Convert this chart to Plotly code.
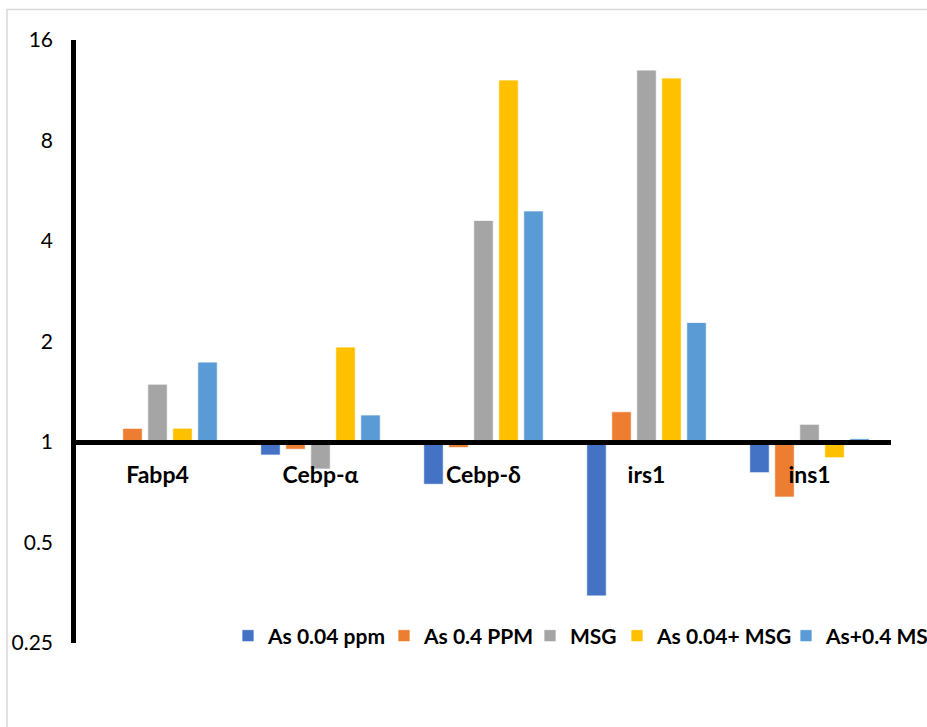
import plotly.graph_objects as go

genes = ["Fabp4", "Cebp-α", "Cebp-δ", "irs1", "ins1"]
series_names = ["As 0.04 ppm", "As 0.4 PPM", "MSG", "As 0.04+ MSG", "As+0.4 MSG"]
colors = ["#4472C4", "#ED7D31", "#A5A5A5", "#FFC000", "#5B9BD5"]

as_004 = [1.0, 0.914, 0.747, 0.346, 0.809]
as_04 = [1.099, 0.951, 0.962, 1.232, 0.684]
msg = [1.49, 0.830, 4.61, 13.0, 1.13]
as_004_msg = [1.10, 1.925, 12.14, 12.31, 0.897]
as_04_msg = [1.735, 1.205, 4.92, 2.28, 1.023]

series_values = [as_004, as_04, msg, as_004_msg, as_04_msg]

y_tickvals = [0.25, 0.5, 1, 2, 4, 8, 16]
y_ticktext = ["0.25", "0.5", "1", "2", "4", "8", "16"]

# legend entry widths (px) to mimic the reference's compact legend spacing
legend_entry_widths = [111, 101, 42, 124, 110]

FONT = "Lato, Carlito, 'Open Sans', sans-serif"

fig = go.Figure()
for name, col, vals, lw in zip(series_names, colors, series_values, legend_entry_widths):
    fig.add_trace(go.Bar(
        name=name,
        x=genes,
        base=[1] * len(vals),
        y=[v - 1 for v in vals],
        customdata=vals,
        hovertemplate="%{x}: %{customdata}<extra>" + name + "</extra>",
        marker=dict(color=col, line=dict(color="white", width=0.75)),
        legendwidth=lw,
    ))

W, H = 927, 727
ml, mr, mt, mb = 76, 36, 39.5, 84
pw = W - ml - mr
ph = H - mt - mb

# chart-area border (light gray), extends beyond right/bottom edges
fig.add_shape(type="rect", xref="paper", yref="paper",
              x0=(7 - ml) / pw, x1=(W + 40 - ml) / pw,
              y0=-(H + 40 - (H - mb)) / ph, y1=((H - mb) - 9) / ph,
              line=dict(color="#D9D9D9", width=1.5), fillcolor="rgba(0,0,0,0)",
              layer="below")

fig.update_layout(
    width=W, height=H,
    margin=dict(l=ml, r=mr, t=mt, b=mb, autoexpand=False),
    paper_bgcolor="white", plot_bgcolor="white",
    barmode="group", bargap=0.233, bargroupgap=0.22,
    font=dict(family=FONT, color="black"),
    showlegend=True,
    legend=dict(orientation="h", xref="paper", yref="paper",
                x=(228 - ml) / pw, xanchor="left",
                y=((H - mb) - 636) / ph, yanchor="middle",
                font=dict(size=21, weight="bold", color="black"),
                bgcolor="rgba(0,0,0,0)", itemwidth=30, traceorder="normal"),
    xaxis=dict(
        type="category", range=[-0.5, 4.5],
        anchor="free", position=1 / 3,
        showline=True, linecolor="black", linewidth=4.5,
        showgrid=False, zeroline=False, ticks="",
        tickfont=dict(size=23, weight="bold", color="black"),
        ticklabelstandoff=11,
    ),
    yaxis=dict(
        type="log", range=[-0.60206, 1.20412],
        tickvals=y_tickvals, ticktext=y_ticktext,
        showline=True, linecolor="black", linewidth=4.5,
        showgrid=False, zeroline=False, ticks="",
        tickfont=dict(size=21, color="black"),
        ticklabelstandoff=14,
    ),
)

fig.write_html("out.html",
               config={"displayModeBar": False},
               post_script="document.body.style.margin='0';document.body.style.overflow='hidden';")
